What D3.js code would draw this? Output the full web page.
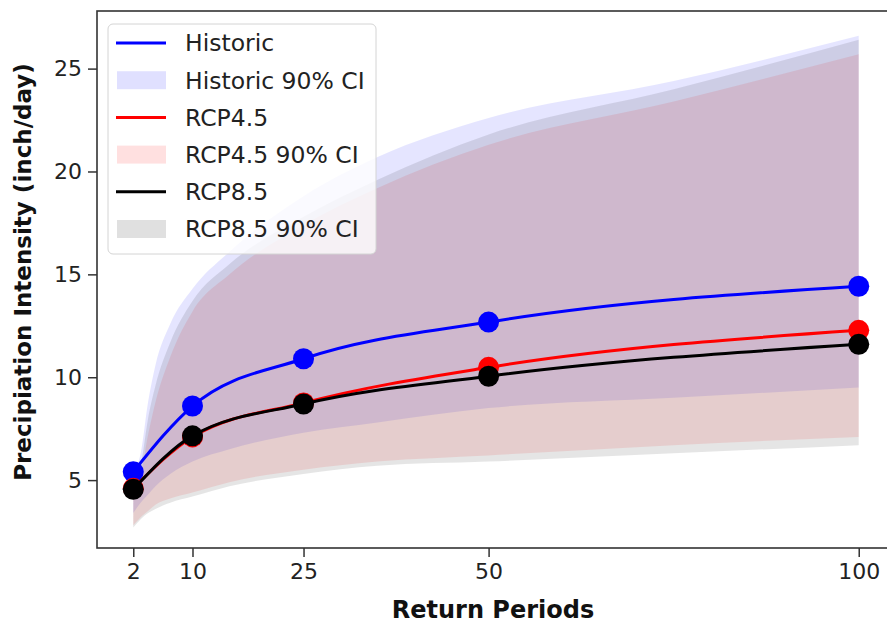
<!DOCTYPE html>
<html lang="en">
<head>
<meta charset="UTF-8">
<title>Precipitation return periods</title>
<script src="https://cdn.jsdelivr.net/npm/d3@7/dist/d3.min.js"></script>
<style>
  body { margin: 0; background: #fff; }
  text { font-family: "DejaVu Sans", sans-serif; }
</style>
</head>
<body>
<svg width="887" height="624"></svg>
<script>
// return periods with markers
const periods = [2, 10, 25, 50, 100]
const historic = [5.4, 8.6, 10.9, 12.68, 14.42]
const rcp45 = [4.6, 7.1, 8.75, 10.48, 12.28]
const rcp85 = [4.55, 7.15, 8.7, 10.05, 11.6]

// confidence band periods
const ciPeriods = [2, 3, 4, 5, 7, 10, 15, 25, 35, 50, 75, 100]
const histLow  = [3.4, 3.9, 4.3, 4.7, 5.3, 5.9, 6.5, 7.3, 7.8, 8.5, 9.0, 9.5]
const histHigh = [5.4, 6.3, 8.8, 10.6, 12.6, 14.3, 16.1, 18.8, 20.7, 22.6, 24.4, 26.6]
const r45Low   = [2.8, 3.2, 3.5, 3.8, 4.1, 4.4, 4.9, 5.5, 5.9, 6.2, 6.7, 7.1]
const r45High  = [4.7, 5.3, 7.2, 8.8, 11.0, 13.2, 15.0, 17.4, 19.2, 21.3, 23.4, 25.7]
const r85Low   = [2.7, 3.1, 3.4, 3.6, 3.9, 4.2, 4.7, 5.3, 5.7, 5.9, 6.3, 6.7]
const r85High  = [4.9, 5.7, 8.0, 9.6, 11.7, 13.7, 15.5, 17.8, 19.6, 21.8, 24.0, 26.4]

const xTicks = [2, 10, 25, 50, 100]
const yTicks = [5, 10, 15, 20, 25]

const svg = d3.select('svg')
const x = d3.scaleLinear().domain([-2.9, 104.9]).range([97, 895])
const y = d3.scaleLinear().domain([1.7, 27.8]).range([548, 11])

const series = [
    {name: 'Historic', color: '#0000ff', mean: historic, lo: histLow, hi: histHigh, fill: '#0000ff'},
    {name: 'RCP4.5', color: '#ff0000', mean: rcp45, lo: r45Low, hi: r45High, fill: '#ff0000'},
    {name: 'RCP8.5', color: '#000000', mean: rcp85, lo: r85Low, hi: r85High, fill: '#000000'}
]

const area = d3.area()
    .x(d => x(d.p)).y0(d => y(d.lo)).y1(d => y(d.hi))
    .curve(d3.curveMonotoneX)
const line = d3.line()
    .x(d => x(d.p)).y(d => y(d.v))
    .curve(d3.curveMonotoneX)

// bands
series.forEach(s => {
    svg.append('path')
        .datum(ciPeriods.map((p, i) => ({p: p, lo: s.lo[i], hi: s.hi[i]})))
        .attr('d', area)
        .attr('fill', s.fill)
        .attr('fill-opacity', 0.1)
})

// lines + markers
series.forEach(s => {
    const pts = periods.map((p, i) => ({p: p, v: s.mean[i]}))
    svg.append('path')
        .datum(pts)
        .attr('d', line)
        .attr('fill', 'none')
        .attr('stroke', s.color)
        .attr('stroke-width', 3)
    svg.append('g')
        .selectAll('circle')
        .data(pts)
        .join('circle')
        .attr('cx', d => x(d.p))
        .attr('cy', d => y(d.v))
        .attr('r', 10.5)
        .attr('fill', s.color)
})

// axes
const xAxis = svg.append('g')
    .attr('transform', 'translate(0,548)')
    .call(d3.axisBottom(x).tickValues(xTicks).tickSize(9).tickPadding(6))
const yAxis = svg.append('g')
    .attr('transform', 'translate(97,0)')
    .call(d3.axisLeft(y).tickValues(yTicks).tickSize(9).tickPadding(6))
;[xAxis, yAxis].forEach(g => {
    g.select('.domain').remove()
    g.selectAll('line').attr('stroke', '#333').attr('stroke-width', 1.5)
    g.selectAll('text').attr('font-size', 22).attr('fill', '#222')
        .attr('font-family', '"DejaVu Sans", sans-serif')
})

// frame
svg.append('rect')
    .attr('x', 97).attr('y', 11)
    .attr('width', 895 - 97).attr('height', 548 - 11)
    .attr('fill', 'none')
    .attr('stroke', '#333')
    .attr('stroke-width', 1.6)

// axis titles
svg.append('text')
    .attr('x', 493).attr('y', 618)
    .attr('text-anchor', 'middle')
    .attr('font-weight', 'bold')
    .attr('font-size', 24)
    .attr('fill', '#111')
    .text('Return Periods')
svg.append('text')
    .attr('transform', 'translate(31,272) rotate(-90)')
    .attr('text-anchor', 'middle')
    .attr('font-weight', 'bold')
    .attr('font-size', 23)
    .attr('fill', '#111')
    .text('Precipiation Intensity (inch/day)')

// legend
const legend = svg.append('g')
legend.append('rect')
    .attr('x', 108).attr('y', 24)
    .attr('width', 268).attr('height', 230)
    .attr('rx', 5)
    .attr('fill', '#fff').attr('fill-opacity', 0.8)
    .attr('stroke', '#d4d4d4')
const entries = []
series.forEach(s => {
    entries.push({label: s.name, color: s.color, kind: 'line'})
    entries.push({label: s.name + ' 90% CI', color: s.fill, kind: 'patch'})
})
const rowY = i => 43 + i * 37.2
entries.forEach((e, i) => {
    if (e.kind === 'line') {
        legend.append('line')
            .attr('x1', 116).attr('x2', 166)
            .attr('y1', rowY(i)).attr('y2', rowY(i))
            .attr('stroke', e.color).attr('stroke-width', 3)
    } else {
        legend.append('rect')
            .attr('x', 117).attr('y', rowY(i) - 9)
            .attr('width', 49).attr('height', 18)
            .attr('fill', e.color).attr('fill-opacity', 0.12)
    }
    legend.append('text')
        .attr('x', 185).attr('y', rowY(i))
        .attr('dy', '0.36em')
        .attr('font-size', 23.5)
        .attr('fill', '#222')
        .text(e.label)
})
</script>
</body>
</html>
